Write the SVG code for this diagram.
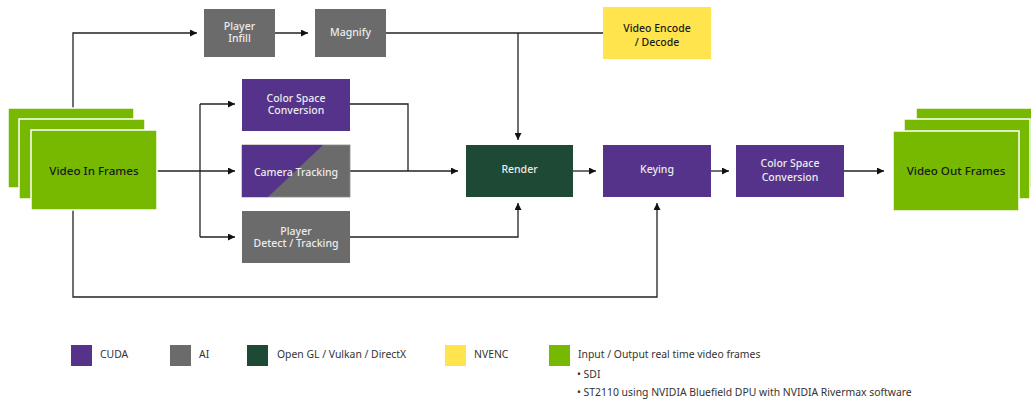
<svg xmlns="http://www.w3.org/2000/svg" width="1031" height="402" viewBox="0 0 1031 402">
<style>
.lbl{font-family:"Noto Sans","Liberation Sans",sans-serif;font-size:10.5px;font-weight:500;fill:#ececec;text-anchor:middle}
.dk{fill:#1a1a1a}
.big{font-family:"Noto Sans","Liberation Sans",sans-serif;font-size:11.6px;font-weight:500;fill:#1a1a1a;text-anchor:middle}
.leg{font-family:"Noto Sans","Liberation Sans",sans-serif;font-size:10.4px;fill:#333}
.cuda{fill:#55338b}
.ai{fill:#6b6b6b}
.gl{fill:#1e4934}
.nv{fill:#ffe44d}
.io{fill:#76b900;stroke:#ffffff;stroke-width:1.5}
.wire{fill:none;stroke:#222;stroke-width:1.3}
</style>
<defs>
<marker id="ah" markerUnits="userSpaceOnUse" markerWidth="8" markerHeight="7" refX="7" refY="3.5" orient="auto">
<path d="M0,0 L7,3.5 L0,7 Z" fill="#111"/>
</marker>
</defs>

<g id="connectors">
<path class="wire" d="M73,108 V33 H197" marker-end="url(#ah)"/>
<path class="wire" d="M275,33 H308" marker-end="url(#ah)"/>
<path class="wire" d="M386,33 H603"/>
<path class="wire" d="M518,33 V140" marker-end="url(#ah)"/>
<path class="wire" d="M157,171 H235" marker-end="url(#ah)"/>
<path class="wire" d="M200,104 V237"/>
<path class="wire" d="M200,104 H235" marker-end="url(#ah)"/>
<path class="wire" d="M200,237 H235" marker-end="url(#ah)"/>
<path class="wire" d="M350,104 H408 V171"/>
<path class="wire" d="M350,171 H458" marker-end="url(#ah)"/>
<path class="wire" d="M350,237 H518 V203" marker-end="url(#ah)"/>
<path class="wire" d="M573,171 H596" marker-end="url(#ah)"/>
<path class="wire" d="M711,171 H729" marker-end="url(#ah)"/>
<path class="wire" d="M844,171 H884" marker-end="url(#ah)"/>
<path class="wire" d="M73,210 V297 H657 V203" marker-end="url(#ah)"/>
</g>

<g id="video-in">
<rect class="io" x="8" y="108" width="126" height="80"/>
<rect class="io" x="19" y="119" width="126" height="80"/>
<rect class="io" x="31" y="130" width="126" height="80"/>
<text class="big" x="94" y="175">Video In Frames</text>
</g>

<g id="player-infill">
<rect class="ai" x="204" y="9" width="71" height="48"/>
<text class="lbl" x="239.5" y="30">Player</text>
<text class="lbl" x="239.5" y="42">Infill</text>
</g>

<g id="magnify">
<rect class="ai" x="315" y="9" width="71" height="48"/>
<text class="lbl" x="350.5" y="36">Magnify</text>
</g>

<g id="video-encode">
<rect class="nv" x="603" y="7" width="108" height="52"/>
<text class="lbl dk" x="657" y="32">Video Encode</text>
<text class="lbl dk" x="657" y="45.5">/ Decode</text>
</g>

<g id="csc-1">
<rect class="cuda" x="242" y="79" width="108" height="52"/>
<text class="lbl" x="296" y="101.5">Color Space</text>
<text class="lbl" x="296" y="114">Conversion</text>
</g>

<g id="camera-tracking">
<rect class="ai" x="242" y="145" width="108" height="52" stroke="#8a8a8a" stroke-width="0.8"/>
<polygon class="cuda" points="242,145 323,145 268,197 242,197"/>
<text class="lbl" x="296" y="175.5">Camera Tracking</text>
</g>

<g id="player-detect">
<rect class="ai" x="242" y="211" width="108" height="52"/>
<text class="lbl" x="296" y="234.5">Player</text>
<text class="lbl" x="296" y="246.5">Detect / Tracking</text>
</g>

<g id="render">
<rect class="gl" x="466" y="145" width="107" height="52"/>
<text class="lbl" x="519.5" y="173">Render</text>
</g>

<g id="keying">
<rect class="cuda" x="603" y="145" width="108" height="52"/>
<text class="lbl" x="657" y="173">Keying</text>
</g>

<g id="csc-2">
<rect class="cuda" x="736" y="145" width="108" height="52"/>
<text class="lbl" x="790" y="167">Color Space</text>
<text class="lbl" x="790" y="180.5">Conversion</text>
</g>

<g id="video-out">
<rect class="io" x="916" y="108" width="126" height="80"/>
<rect class="io" x="904" y="119" width="126" height="80"/>
<rect class="io" x="893" y="131" width="126" height="80"/>
<text class="big" x="956" y="175">Video Out Frames</text>
</g>

<g id="legend">
<rect class="cuda" x="71" y="345" width="21" height="21"/>
<text class="leg" x="100" y="358">CUDA</text>
<rect class="ai" x="170" y="345" width="21" height="21"/>
<text class="leg" x="199" y="358">AI</text>
<rect class="gl" x="247" y="345" width="21" height="21"/>
<text class="leg" x="277" y="358">Open GL / Vulkan / DirectX</text>
<rect class="nv" x="445" y="345" width="21" height="21"/>
<text class="leg" x="474" y="358">NVENC</text>
<rect fill="#76b900" x="549" y="345" width="21" height="21"/>
<text class="leg" x="578" y="358">Input / Output real time video frames</text>
<text class="leg" x="577" y="378">• SDI</text>
<text class="leg" x="577" y="396">• ST2110 using NVIDIA Bluefield DPU with NVIDIA Rivermax software</text>
</g>
</svg>
